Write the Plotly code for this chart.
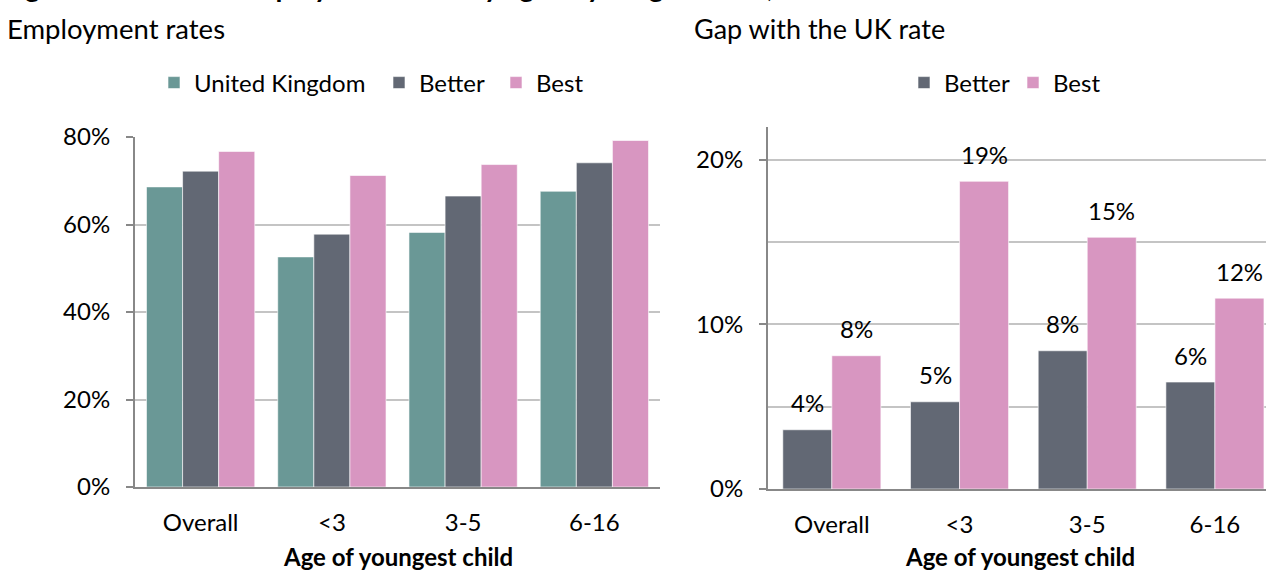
import plotly.graph_objects as go

# ---- data ----
categories = ["Overall", "<3", "3-5", "6-16"]
uk_rate = [0.686, 0.526, 0.582, 0.676]
better_rate = [0.722, 0.578, 0.665, 0.741]
best_rate = [0.767, 0.712, 0.737, 0.792]

better_gap = [0.036, 0.053, 0.084, 0.065]
best_gap = [0.081, 0.187, 0.153, 0.116]

left_title = "Employment rates"
right_title = "Gap with the UK rate"
axis_title = "Age of youngest child"
fig_title = "Figure 1: Maternal employment rates by age of youngest child, UK"

# ---- style ----
W, H = 1266, 570
C_UK, C_BETTER, C_BEST = "#6A9896", "#626874", "#D896C1"
FONT = "Lato"
FS = 24
GRID = "#C4C4C4"
AXIS = "#888888"

def px_x(p):
    return p / W

def px_y(p):
    return 1 - p / H

fig = go.Figure()

wL = 0.275
left_series = [("United Kingdom", uk_rate, C_UK, 180), ("Better", better_rate, C_BETTER, 72), ("Best", best_rate, C_BEST, None)]
for i, (name, vals, col, lw) in enumerate(left_series):
    fig.add_trace(go.Bar(
        x=categories, y=vals, name=name, marker=dict(color=col, line=dict(color="white", width=0.6)),
        width=wL, offset=-1.5 * wL + i * wL, xaxis="x", yaxis="y", legend="legend",
        legendwidth=lw, hoverinfo="skip"))

wR = 0.384
right_series = [("Better", better_gap, C_BETTER, 64), ("Best", best_gap, C_BEST, None)]
for i, (name, vals, col, lw) in enumerate(right_series):
    fig.add_trace(go.Bar(
        x=categories, y=vals, name=name, marker=dict(color=col, line=dict(color="white", width=0.6)),
        width=wR, offset=-wR + i * wR, xaxis="x2", yaxis="y2", legend="legend2",
        legendwidth=lw, hoverinfo="skip"))

annotations = []
for i, (name, vals, col, lw) in enumerate(right_series):
    for j, v in enumerate(vals):
        annotations.append(dict(
            x=j - wR / 2 + i * wR, y=v, xref="x2", yref="y2",
            text=f"{v * 100:.0f}%", showarrow=False, yanchor="middle", yshift=27,
            font=dict(family=FONT, size=FS, color="black")))

annotations += [
    dict(x=px_x(5), y=px_y(28), xref="paper", yref="paper", xanchor="left", yanchor="middle",
         text=left_title, showarrow=False, font=dict(family=FONT, size=27.5, color="black")),
    dict(x=px_x(692), y=px_y(28), xref="paper", yref="paper", xanchor="left", yanchor="middle",
         text=right_title, showarrow=False, font=dict(family=FONT, size=27, color="black")),
    dict(x=0.5, y=px_y(556), xref="x domain", yref="paper", xanchor="center", yanchor="middle",
         text=f"<b>{axis_title}</b>", showarrow=False, font=dict(family=FONT, size=FS, color="black")),
    dict(x=(1020 - 768) / (1266 - 768), y=px_y(556), xref="x2 domain", yref="paper", xanchor="center", yanchor="middle",
         text=f"<b>{axis_title}</b>", showarrow=False, font=dict(family=FONT, size=FS, color="black")),
    dict(x=0, y=1, xref="paper", yref="paper", xanchor="left", yanchor="bottom", yshift=-5,
         text=f"<b>{fig_title}</b>", showarrow=False, font=dict(family=FONT, size=28, color="black")),
]

common_y = dict(showgrid=True, gridcolor=GRID, gridwidth=1.5, showline=True, linecolor=AXIS, linewidth=2,
                ticks="outside", ticklen=7, tickwidth=2, tickcolor=AXIS, tickformat=".0%",
                zeroline=False, ticklabelstandoff=11, fixedrange=True, automargin=False,
                tickfont=dict(family=FONT, size=FS, color="black"))
common_x = dict(showline=True, linecolor=AXIS, linewidth=2, ticks="", showgrid=False,
                ticklabelstandoff=13, fixedrange=True, automargin=False,
                tickfont=dict(family=FONT, size=FS, color="black"))

fig.update_layout(
    width=W, height=H, margin=dict(l=0, r=0, t=0, b=0, autoexpand=False),
    paper_bgcolor="white", plot_bgcolor="white",
    font=dict(family=FONT, size=FS, color="black"),
    barmode="group",
    xaxis=dict(domain=[px_x(135), px_x(660)], range=[-0.5, 3.5], anchor="y", **common_x),
    yaxis=dict(domain=[px_y(487), px_y(137)], range=[0, 0.8], dtick=0.2, anchor="x", **common_y),
    xaxis2=dict(domain=[px_x(768), 1.0], range=[-0.5, 3.4], anchor="y2", **common_x),
    yaxis2=dict(domain=[px_y(489), px_y(127)], range=[0, 0.22], dtick=0.1, anchor="x2",
                minor=dict(dtick=0.05, showgrid=True, gridcolor=GRID, gridwidth=1.5, ticks=""),
                **common_y),
    legend=dict(orientation="h", x=px_x(154), y=px_y(83), xanchor="left", yanchor="middle",
                font=dict(family=FONT, size=FS, color="black"), bgcolor="rgba(0,0,0,0)"),
    legend2=dict(orientation="h", x=px_x(904), y=px_y(83), xanchor="left", yanchor="middle",
                 font=dict(family=FONT, size=FS, color="black"), bgcolor="rgba(0,0,0,0)"),
    annotations=annotations,
    showlegend=True,
)

fig.write_html("out.html", config={"displayModeBar": False},
               post_script="document.body.style.margin='0';document.body.style.overflow='hidden';")
